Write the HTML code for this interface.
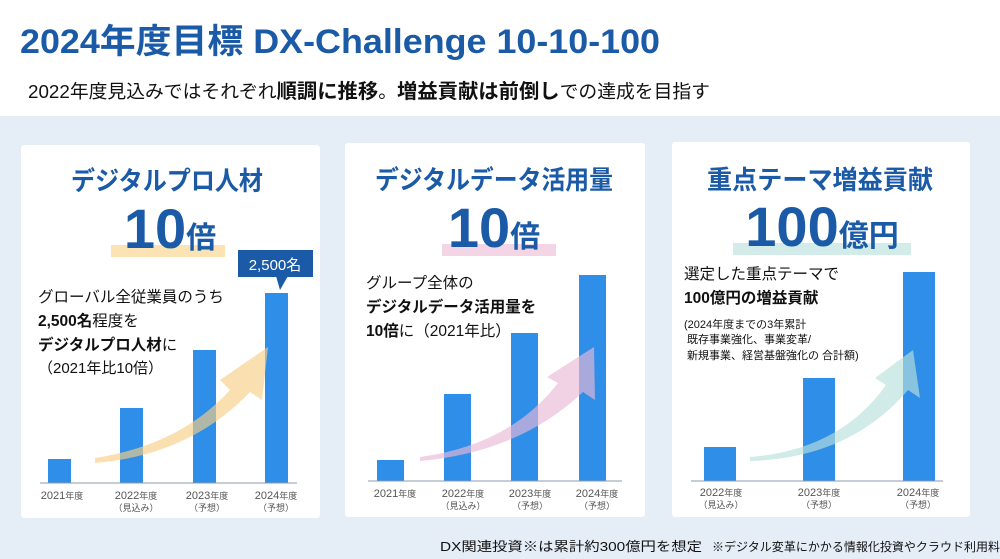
<!DOCTYPE html>
<html><head><meta charset="utf-8"><style>
body{margin:0;width:1000px;height:559px;overflow:hidden;background:#fff;font-family:"Liberation Sans","Noto Sans CJK JP",sans-serif;}
svg{display:block}
text{font-family:"Liberation Sans","Noto Sans CJK JP",sans-serif}
</style></head><body>
<svg width="1000" height="559" viewBox="0 0 1000 559" xmlns="http://www.w3.org/2000/svg">
<rect x="0" y="0" width="1000" height="116" fill="#fff"/>
<rect x="0" y="116" width="1000" height="443" fill="#e5edf7"/>
<text x="20" y="53" font-size="34" font-weight="bold" fill="#1a5aa6" textLength="640" lengthAdjust="spacingAndGlyphs">2024年度目標 DX-Challenge 10-10-100</text>
<text x="28" y="98" font-size="18.5" fill="#111" textLength="682" lengthAdjust="spacingAndGlyphs">2022年度見込みではそれぞれ<tspan font-weight="bold" font-size="20">順調に推移</tspan>。<tspan font-weight="bold" font-size="20">増益貢献は前倒し</tspan>での達成を目指す</text>

<!-- panels -->
<rect x="21" y="145" width="299" height="373" rx="3" fill="#fff"/>
<rect x="345" y="143" width="300" height="374" rx="3" fill="#fff"/>
<rect x="672" y="142" width="298" height="375" rx="3" fill="#fff"/>

<!-- panel 1 -->
<text x="167" y="190" text-anchor="middle" font-size="26" font-weight="bold" fill="#1a5aa6" textLength="192" lengthAdjust="spacingAndGlyphs">デジタルプロ人材</text>
<rect x="111" y="245" width="114" height="12" fill="#fbe3b4"/>
<text x="170" y="248" text-anchor="middle" font-size="56" font-weight="bold" fill="#1a5aa6">10<tspan font-size="30">倍</tspan></text>
<rect x="48" y="459" width="23" height="24" fill="#2f8ee8"/>
<rect x="120" y="408" width="23" height="75" fill="#2f8ee8"/>
<rect x="193" y="350" width="23" height="133" fill="#2f8ee8"/>
<rect x="265" y="293" width="23" height="190" fill="#2f8ee8"/>
<path d="M95,458 Q180,445 230,390 L220,380 L268,347 L262,400 L250,392 Q190,455 95,463 Z" fill="#f8cf85" opacity="0.65"/>
<line x1="40" y1="483" x2="297" y2="483" stroke="#8a9bb0" stroke-width="1"/>
<rect x="238" y="250" width="75" height="27" fill="#1a5aa6"/>
<path d="M276,276 L288,276 L280,290 Z" fill="#1a5aa6"/>
<text x="275" y="270" text-anchor="middle" font-size="15" fill="#fff">2,500名</text>
<text x="38" y="302" font-size="15.5" fill="#111">グローバル全従業員のうち</text>
<text x="38" y="326" font-size="15.5" fill="#111"><tspan font-weight="bold">2,500名</tspan>程度を</text>
<text x="38" y="350" font-size="15.5" fill="#111"><tspan font-weight="bold">デジタルプロ人材</tspan>に</text>
<text x="38" y="373" font-size="15" fill="#111">（2021年比10倍）</text>
<g font-size="11" fill="#555" text-anchor="middle">
<text x="62" y="499">2021<tspan font-size="9">年度</tspan></text>
<text x="136" y="499">2022<tspan font-size="9">年度</tspan></text><text x="136" y="511" font-size="9">（見込み）</text>
<text x="207" y="499">2023<tspan font-size="9">年度</tspan></text><text x="207" y="511" font-size="9">（予想）</text>
<text x="276" y="499">2024<tspan font-size="9">年度</tspan></text><text x="276" y="511" font-size="9">（予想）</text>
</g>

<!-- panel 2 -->
<text x="494" y="189" text-anchor="middle" font-size="26" font-weight="bold" fill="#1a5aa6" textLength="238" lengthAdjust="spacingAndGlyphs">デジタルデータ活用量</text>
<rect x="442" y="244" width="114" height="12" fill="#f3d5e6"/>
<text x="494" y="247" text-anchor="middle" font-size="56" font-weight="bold" fill="#1a5aa6">10<tspan font-size="30">倍</tspan></text>
<rect x="377" y="460" width="27" height="21" fill="#2f8ee8"/>
<rect x="444" y="394" width="27" height="87" fill="#2f8ee8"/>
<rect x="511" y="333" width="27" height="148" fill="#2f8ee8"/>
<rect x="579" y="275" width="27" height="206" fill="#2f8ee8"/>
<path d="M420,457 Q510,445 558,383 L547,377 L594,347 L595,400 L583,392 Q520,452 420,461 Z" fill="#eab9d5" opacity="0.65"/>
<line x1="368" y1="481" x2="622" y2="481" stroke="#8a9bb0" stroke-width="1"/>
<text x="366" y="288" font-size="15.5" fill="#111">グループ全体の</text>
<text x="366" y="312" font-size="15.5" font-weight="bold" fill="#111">デジタルデータ活用量を</text>
<text x="366" y="336" font-size="15.5" fill="#111"><tspan font-weight="bold">10倍</tspan>に（2021年比）</text>
<g font-size="11" fill="#555" text-anchor="middle">
<text x="395" y="497">2021<tspan font-size="9">年度</tspan></text>
<text x="463" y="497">2022<tspan font-size="9">年度</tspan></text><text x="463" y="509" font-size="9">（見込み）</text>
<text x="530" y="497">2023<tspan font-size="9">年度</tspan></text><text x="530" y="509" font-size="9">（予想）</text>
<text x="597" y="497">2024<tspan font-size="9">年度</tspan></text><text x="597" y="509" font-size="9">（予想）</text>
</g>

<!-- panel 3 -->
<text x="820" y="189" text-anchor="middle" font-size="26" font-weight="bold" fill="#1a5aa6" textLength="226" lengthAdjust="spacingAndGlyphs">重点テーマ増益貢献</text>
<rect x="733" y="243" width="178" height="12" fill="#d3ece9"/>
<text x="822" y="246" text-anchor="middle" font-size="56" font-weight="bold" fill="#1a5aa6">100<tspan font-size="30">億円</tspan></text>
<rect x="704" y="447" width="32" height="34" fill="#2f8ee8"/>
<rect x="803" y="378" width="32" height="103" fill="#2f8ee8"/>
<rect x="903" y="272" width="32" height="209" fill="#2f8ee8"/>
<path d="M750,457 Q840,450 886,385 L875,378 L913,350 L920,398 L908,390 Q850,458 750,461 Z" fill="#b9e0dc" opacity="0.65"/>
<line x1="691" y1="481" x2="943" y2="481" stroke="#8a9bb0" stroke-width="1"/>
<text x="684" y="279" font-size="15.5" fill="#111">選定した重点テーマで</text>
<text x="684" y="303" font-size="15.5" font-weight="bold" fill="#111">100億円の増益貢献</text>
<text x="684" y="328" font-size="11" fill="#111">(2024年度までの3年累計</text>
<text x="687" y="343" font-size="11" fill="#111">既存事業強化、事業変革/</text>
<text x="687" y="359" font-size="11" fill="#111">新規事業、経営基盤強化の 合計額)</text>
<g font-size="11" fill="#555" text-anchor="middle">
<text x="721" y="496">2022<tspan font-size="9">年度</tspan></text><text x="721" y="508" font-size="9">（見込み）</text>
<text x="819" y="496">2023<tspan font-size="9">年度</tspan></text><text x="819" y="508" font-size="9">（予想）</text>
<text x="918" y="496">2024<tspan font-size="9">年度</tspan></text><text x="918" y="508" font-size="9">（予想）</text>
</g>

<text x="440" y="551" font-size="13" fill="#111" textLength="262" lengthAdjust="spacingAndGlyphs">DX関連投資※は累計約300億円を想定</text>
<text x="712" y="551" font-size="12" fill="#111" textLength="288" lengthAdjust="spacingAndGlyphs">※デジタル変革にかかる情報化投資やクラウド利用料</text>
</svg>
</body></html>
